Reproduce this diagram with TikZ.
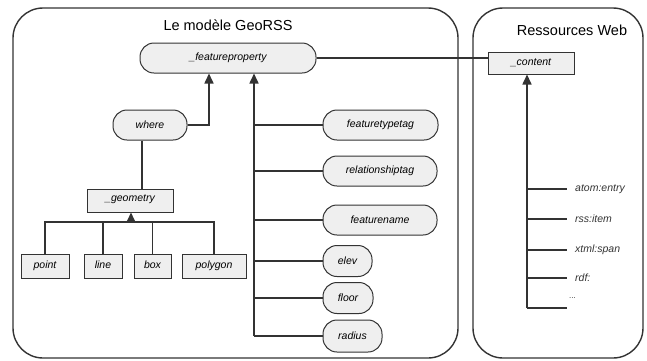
\documentclass[tikz,border=0pt]{standalone}
\usepackage{fontspec}
\usepackage{tikz}
\usetikzlibrary{arrows.meta}
\usetikzlibrary{positioning}
\newfontfamily\labfont{Liberation Sans}
\definecolor{boxfill}{HTML}{EFEFEF}
\definecolor{edge}{HTML}{333333}
\tikzset{container/.style = {draw=edge, line width=1.4pt, rounded corners=30pt,
                             inner sep=0pt},
         oval/.style = {draw=edge, fill=boxfill, line width=1pt, rounded corners=14pt,
                        minimum height=30pt, inner sep=0pt,
                        font=\labfont\itshape\fontsize{10.5}{12}\selectfont},
         rectbox/.style = {draw=edge, fill=boxfill, line width=1pt,
                           minimum height=23pt, inner sep=0pt,
                           font=\labfont\itshape\fontsize{10.5}{12}\selectfont},
         item/.style = {anchor=west, inner sep=2pt, text=edge,
                        font=\labfont\itshape\fontsize{10.5}{12}\selectfont},
         wire/.style = {draw=edge, line width=1.6pt},
         inh/.style = {wire, -{Triangle[length=10pt,width=9pt]}}}

\begin{document}
\begin{tikzpicture}[x=1pt, y=-1pt]
    \useasboundingbox (0,0) rectangle (647,360);
    \node [container, minimum width=445pt, minimum height=350pt] (georss) at (235.5,183) {};
    \node [container, minimum width=170pt, minimum height=350pt] (web) at (558,183) {};
    \node [font=\labfont\fontsize{14.5}{16}\selectfont] (title1) at (228,25) {Le modèle GeoRSS};
    \node [font=\labfont\fontsize{14.5}{16}\selectfont] (title2) at (572,30) {Ressources Web};

    \node [oval, minimum width=176pt] (fp) at (228,58) {\raisebox{2pt}{\_featureproperty}\hspace{32pt}};
    \node [oval, minimum width=74pt] (where) at (150,125) {where\hspace{16pt}};
    \node [rectbox, minimum width=86pt] (geom) at (130,200.5) {\raisebox{4pt}{\_geometry}};
    \node [rectbox, minimum width=48pt, minimum height=24pt] (gpoint) at (45,266) {point\hspace{8pt}};
    \node [rectbox, minimum width=38pt, minimum height=24pt] (gline) at (103,266) {\raisebox{3pt}{line}};
    \node [rectbox, minimum width=37pt, minimum height=24pt] (gbox) at (152.5,266) {\raisebox{3pt}{box}};
    \node [rectbox, minimum width=64pt, minimum height=24pt] (gpolygon) at (214,266) {\raisebox{3pt}{polygon}};

    \node [oval, minimum width=115pt] (ftt) at (380.5,125) {featuretypetag};
    \node [oval, minimum width=114pt] (rel) at (380,171) {relationshiptag};
    \node [oval, minimum width=114pt] (fname) at (380,220) {featurename};
    \node [oval, minimum width=49pt, minimum height=31pt] (elev) at (347.5,261) {elev\hspace{6pt}};
    \node [oval, minimum width=50pt, minimum height=31pt] (floor) at (348,298) {floor\hspace{6pt}};
    \node [oval, minimum width=59pt, minimum height=32pt] (radius) at (352.5,336) {radius\hspace{6pt}};

    \node [rectbox, minimum width=86pt, minimum height=22pt] (content) at (531,63) {\raisebox{2pt}{\_content}\hspace{24pt}};

    \node [item] (ae) at (573,189) {atom:entry};
    \node [item] (ri) at (573,219) {rss:item};
    \node [item] (xs) at (573,250) {xtml:span};
    \node [item] (rdf) at (573,278) {rdf:};
    \node [item, font=\labfont\fontsize{8}{9}\selectfont] (more) at (567,298) {...};

    \coordinate (tr) at (254,336);
    \coordinate (bus) at (131,222);
    \coordinate (ct) at (527,308);
    \coordinate (ctend) at (567,308);

    \draw [inh] (tr) -- (tr |- fp.south);
    \foreach \n in {ftt,rel,fname,elev,floor,radius}
        \draw [wire] (\n.west) -- (\n.west -| tr);
    \draw [inh] (where.east) -| ([xshift=-19pt]fp.south);
    \draw [wire] ([xshift=-8pt]where.south) -- ([xshift=-8pt]where.south |- geom.north);
    \draw [inh] (bus) -- (bus |- geom.south);
    \foreach \n in {gpoint,gline,gbox,gpolygon}
        \draw [wire] (\n.north) |- (bus);
    \draw [wire, line width=1.2pt] (fp.east) -- (fp.east -| content.west);
    \draw [inh] (ct) -- (ct |- content.south);
    \foreach \n in {ae,ri,xs,rdf}
        \draw [wire] (\n.west -| ct) -- ([xshift=-6pt]\n.west);
    \draw [wire] (ct) -- (ctend);
  \end{tikzpicture}
\end{document}
